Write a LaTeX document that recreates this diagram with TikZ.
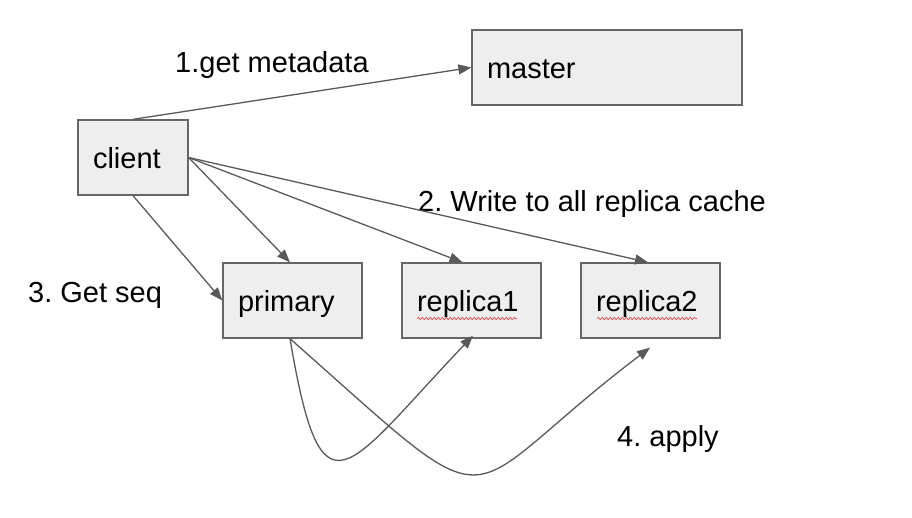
\documentclass[tikz,border=0pt]{standalone}
\usepackage{fontspec}
\setmainfont{Liberation Sans}
\usetikzlibrary{arrows.meta,decorations.pathmorphing}
\definecolor{boxfill}{HTML}{EEEEEE}
\definecolor{boxline}{HTML}{666666}
\definecolor{arrowc}{HTML}{595959}
\definecolor{spell}{HTML}{E84A4A}
\tikzset{
  box/.style={draw=boxline, fill=boxfill, line width=1.3pt, minimum height=75pt,
    inner xsep=15pt, inner ysep=0pt, align=left, text height=23pt, text depth=0pt,
    font=\fontsize{29}{33}\selectfont},
  conn/.style={draw=arrowc, line width=1.3pt, -{Triangle[length=13pt,width=10pt]}},
  lbl/.style={anchor=base west, inner sep=0pt, font=\fontsize{29}{33}\selectfont},
  squiggle/.style={draw=spell, line width=0.7pt, decorate,
    decoration={snake, amplitude=1.1pt, segment length=4pt}}
}
\begin{document}
\frenchspacing
\begin{tikzpicture}[x=1pt,y=-1pt]
\useasboundingbox (0,0) rectangle (912,518);
\node[box, text width=240pt] (master) at (607,67.5) {master};
\node[box, text width=80pt] (client) at (133,157.5) {client};
\node[box, text width=109pt] (primary) at (292.5,300.5) {primary};
\node[box, text width=109pt] (replica1) at (471.5,300.5) {replica1};
\node[box, text width=109pt] (replica2) at (650.5,300.5) {replica2};

\coordinate (u1s) at (417,318.5);
\coordinate (u1e) at (517,318.5);
\coordinate (u2s) at (597,318.5);
\coordinate (u2e) at (697,318.5);
\draw[squiggle] (u1s) -- (u1e);
\draw[squiggle] (u2s) -- (u2e);

\node[lbl] (l1) at (175,73) {1.get metadata};
\node[lbl] (l2) at (418,212) {2. Write to all replica cache};
\node[lbl] (l3) at (28,303) {3. Get seq};
\node[lbl] (l4) at (617,446) {4. apply};

\draw[conn] (client.north) -- (master.west);
\draw[conn] (client.east) -- ([xshift=-2.5pt]primary.north);
\draw[conn] (client.east) -- ([xshift=-9pt]replica1.north);
\draw[conn] (client.east) -- ([xshift=-2.5pt]replica2.north);
\draw[conn] (client.south) -- (primary.west);
\draw[conn] ([xshift=-2.5pt]primary.south) .. controls (322,528) and (345,470) .. ([xshift=1.5pt,yshift=3pt]replica1.south);
\draw[conn] ([xshift=-2.5pt]primary.south) .. controls (511,534) and (448,501) .. ([xshift=-0.5pt,yshift=-9pt]replica2.south);
\end{tikzpicture}
\end{document}
